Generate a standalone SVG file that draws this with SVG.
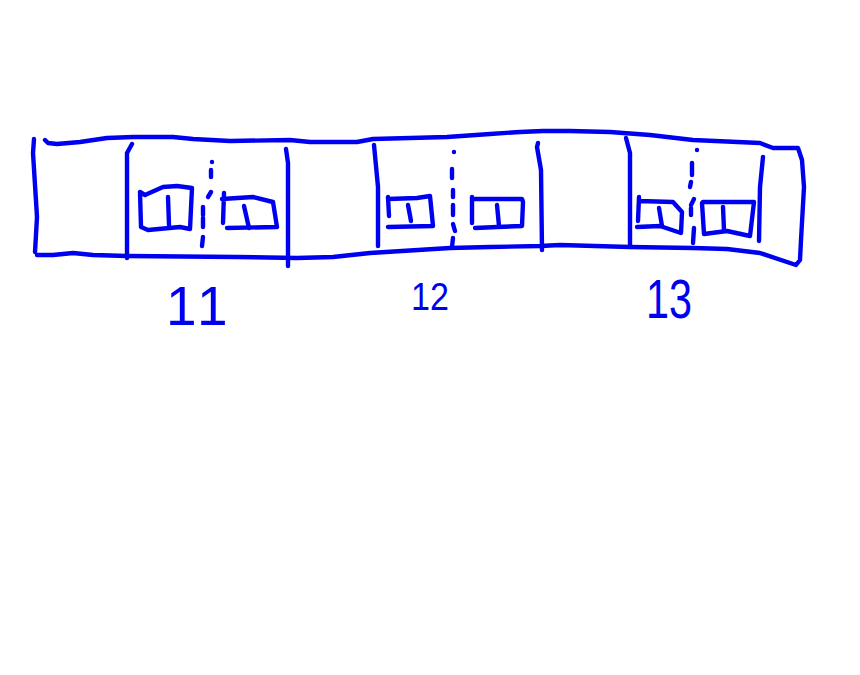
<svg xmlns="http://www.w3.org/2000/svg" width="860" height="675" viewBox="0 0 860 675">
<style>
.s{fill:none;stroke:#0000f0;stroke-width:4.4;stroke-linecap:round;stroke-linejoin:round}
.t{fill:#0000f0;font-family:"Liberation Sans",Arial,sans-serif}
</style>
<rect width="860" height="675" fill="#fff"/>
<g id="strip" class="s">
<path d="M34 139L33 153L37 217L35 252"/>
<path d="M45 140L48 143L57 144L80 142L107 138L133 137L173 137L193 139L230 141L290 140L310 142L357 142L373 139L447 137L490 134L520 132L543 131L570 131L610 132L650 135L693 140L760 143L773 148L798 148L802 160L804 187L801 240L800 260L796 265L760 253L727 249L693 248L630 247L560 245L540 246L490 247L450 248L370 253L333 257L297 258L237 257L127 256L93 255L73 253L53 255L37 255"/>
</g>
<g id="dividers" class="s">
<path d="M132 144L127 153L127 258"/>
<path d="M286 149L288 163L288 266"/>
<path d="M374 145L378 187L378 246"/>
<path d="M538 143L537 147L541 170L542 250"/>
<path d="M626 138L630 153L630 247"/>
<path d="M763 157L760 187L759 241"/>
</g>
<g id="dashes" class="s">
<path d="M212 162L212 162M211 170L211 177M211 192L208 197M203 207L203 215M203 218L203 227M203 237L202 246"/>
<path d="M454 152L454 152M452 169L452 178M453 190L453 197M453 205L453 215M453 224L455 231M453 238L452 247"/>
<path d="M697 150L697 150M692 163L692 175M691 182L690 187M694 199L691 205M691 208L691 215M694 228L693 243"/>
</g>
<g id="cell-11" class="s">
<path d="M145 195L140 192L141 227L148 230L180 227L190 229L192 188L177 186L163 187L145 195"/>
<path d="M168 197L169 225"/>
<path d="M224 193L223 223M222 199L253 197L273 202L277 227L227 228"/>
<path d="M244 206L249 228"/>
</g>
<g id="cell-12" class="s">
<path d="M388 197L389 216M388 199L417 198L430 196L433 226L388 227"/>
<path d="M408 205L411 221"/>
<path d="M472 197L472 223M472 199L522 199L523 202L522 226L497 227L475 228"/>
<path d="M497 205L499 226"/>
</g>
<g id="cell-13" class="s">
<path d="M639 197L638 221M639 201L673 202L682 212L681 233L660 226L637 227"/>
<path d="M659 208L662 226"/>
<path d="M702 203L704 234L727 231L750 236L754 202L703 202"/>
<path d="M723 207L724 230"/>
</g>
<g id="labels">
<text class="t" x="166 197" y="325" font-size="55">11</text>
<text class="t" x="411" y="310" font-size="38" textLength="38" lengthAdjust="spacingAndGlyphs">12</text>
<text class="t" x="646" y="318" font-size="55" textLength="46" lengthAdjust="spacingAndGlyphs">13</text>
</g>
</svg>
